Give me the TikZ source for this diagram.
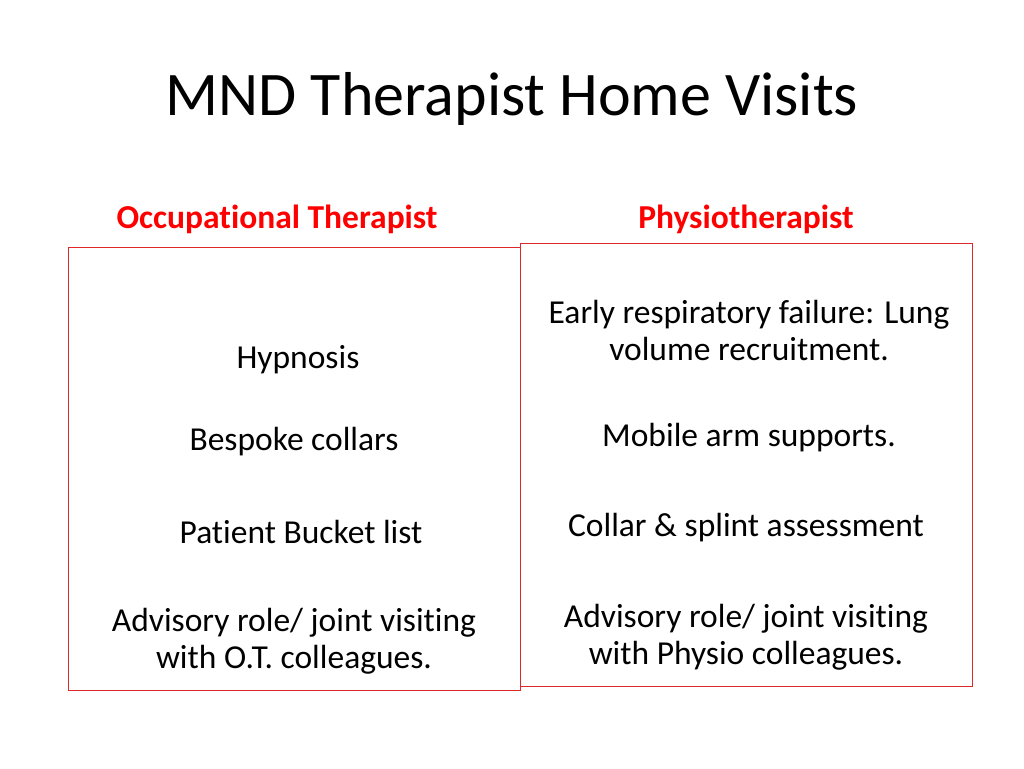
\documentclass[tikz,border=0pt]{standalone}
\usepackage{fontspec}
\setmainfont{Carlito}[Ligatures=NoCommon]
\definecolor{hred}{RGB}{255,0,0}
\definecolor{bred}{RGB}{220,40,40}
\begin{document}
\begin{tikzpicture}[x=1pt,y=-1pt,
 body/.style={font=\fontsize{33.5}{37}\selectfont,align=center,inner sep=0pt},
 head/.style={font=\fontsize{33.5}{37}\selectfont\bfseries,text=hred,inner sep=0pt},
 panel/.style={draw=bred,line width=0.8pt}]
\useasboundingbox (0,0) rectangle (1024,768);
\node[font=\fontsize{62}{70}\selectfont,inner sep=0pt] (title) at (512,99) {MND Therapist Home Visits};
\node[head] (hl) at (277,219) {Occupational Therapist};
\node[head] (hr) at (746,219) {Physiotherapist};
\draw[panel] (68,247) rectangle (520,690) node[coordinate](bl){};
\draw[panel] (520,243) rectangle (972,686) node[coordinate](br){};
\node[body] (l1) at (298,360) {Hypnosis};
\node[body] (l2) at (294,442) {Bespoke collars};
\node[body] (l3) at (301,532) {Patient Bucket list};
\node[body] (l4) at (294,641) {Advisory role/ joint visiting\\with O.T. colleagues.};
\node[body] (r1) at (749,330) {Early respiratory failure: Lung\\volume recruitment.};
\node[body] (r2) at (749,438) {Mobile arm supports.};
\node[body] (r3) at (746,528) {Collar \& splint assessment};
\node[body] (r4) at (746,637) {Advisory role/ joint visiting\\with Physio colleagues.};
\end{tikzpicture}
\end{document}
